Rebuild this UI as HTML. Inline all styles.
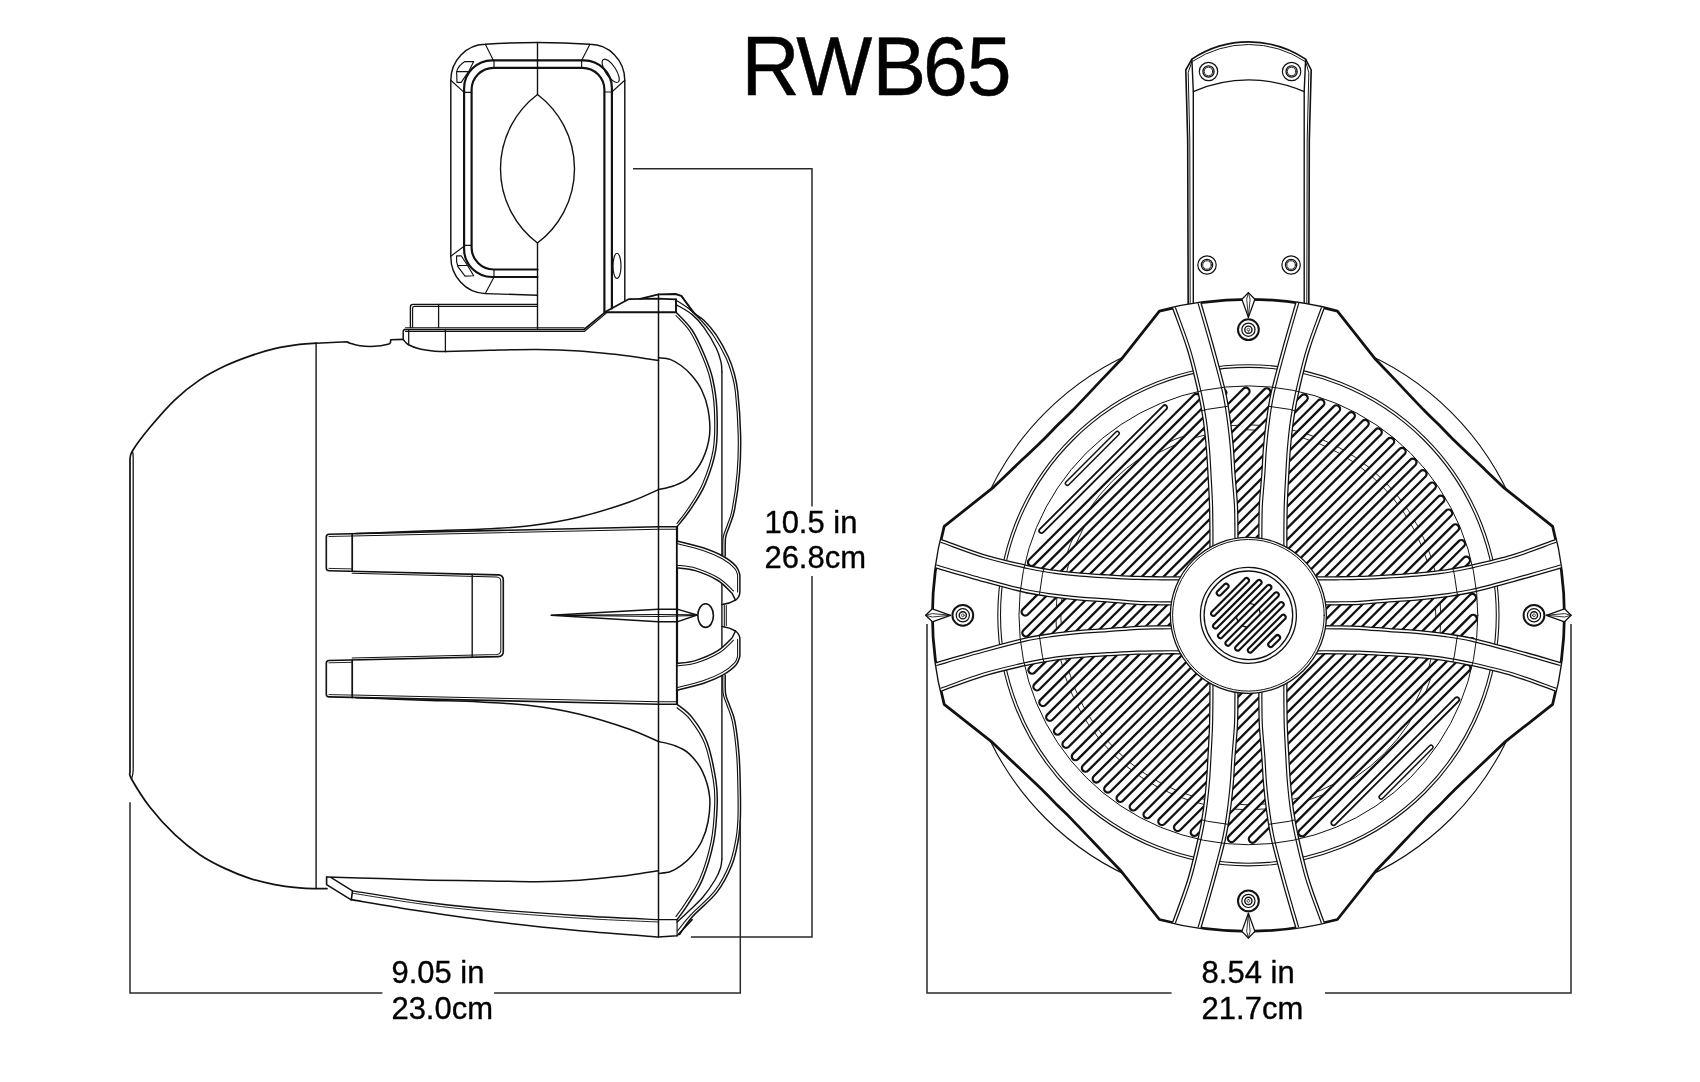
<!DOCTYPE html>
<html lang="en">
<head>
<meta charset="utf-8">
<title>RWB65</title>
<style>
html,body{margin:0;padding:0;background:#fff;}
body{width:1700px;height:1082px;overflow:hidden;}
svg{display:block;}
text{font-family:"Liberation Sans",Arial,Helvetica,sans-serif;fill:#000;}
</style>
</head>
<body>
<svg width="1700" height="1082" viewBox="0 0 1700 1082">
<rect width="1700" height="1082" fill="#fff"/>
<g id="side" fill="none" stroke="#111" stroke-width="1.35" stroke-linecap="round" stroke-linejoin="round">
<path d="M316.1,343.2C313.4,343.4 306.5,343.5 299.6,344.4C292.7,345.3 283,346.8 274.7,348.7C266.4,350.6 258,353.2 249.7,356.1C241.4,359 233.1,362.1 224.8,366.1C216.5,370.1 208.1,374.3 199.8,379.9C191.5,385.5 183.2,391.9 174.9,399.8C166.6,407.7 157.1,418.8 150,427.3C142.9,435.8 135.7,445.6 132.4,451C129.1,456.4 130.4,458.2 130,459.7L130,772.3C130.2,773.4 128.2,773.2 131.5,779C134.8,784.8 142.8,798 150,807.3C157.2,816.6 166.6,826.8 174.9,834.7C183.2,842.6 191.5,849.1 199.8,854.7C208.1,860.3 216.5,864.5 224.8,868.4C233.1,872.3 241.4,875.7 249.7,878.4C258,881.1 266.4,883 274.7,884.6C283,886.2 292.7,887.2 299.6,887.9C306.5,888.6 313.4,888.5 316.1,888.6L327,888.6" stroke-width="1.72"/>
<path d="M316.1,343.2L347,341.7C347.5,341.9 347.8,342.5 350,343.2C352.2,343.9 355.9,345.3 360,345.8C364.1,346.3 369.8,346.6 374.5,346.3C379.2,346 385.3,344.8 388,344.2C390.7,343.6 390.1,342.8 390.5,342.5L390.7,339.8L403.2,339.4" stroke-width="1.61"/>
<path d="M132.4,451C133.2,453 133.2,455 133.2,458L133.2,770C133.2,774 132.5,776 131.5,779" stroke-width="1.26"/>
<path d="M316.1,343.2L316.1,888.6" stroke-width="1.38"/>
<path d="M537.3,304.4L413,304.4Q410.4,304.4 410.4,307L410.4,327.6" stroke-width="1.38"/>
<path d="M537.3,306.3L414.5,306.3Q412.6,306.3 412.6,308.2L412.6,327.6" stroke-width="1.15"/>
<path d="M438.6,304.4L438.6,327.6" stroke-width="1.26"/>
<path d="M405.5,327.7L584,327.7" stroke-width="1.15"/>
<path d="M404.8,329.5L584,329.5L605.5,311.8L628.5,299.2L658.5,298.6L675.5,299.3" stroke-width="1.72"/>
<path d="M405.5,331.3L584.6,331.3L606,313.4" stroke-width="1.15"/>
<path d="M640,298.9L658.5,294.4L675.5,294L681.3,295.8L693.3,312" stroke-width="1.84"/>
<path d="M404.8,329.5Q403.2,329.7 403.2,331.5L403.2,339.4C404,340.2 405.2,342.9 408,344.5C410.8,346.1 415.8,347.9 420,349C424.2,350.1 428.8,350.6 433,351C437.2,351.4 443.3,351.5 445.4,351.6" stroke-width="1.49"/>
<path d="M445.4,329.5L445.4,351.6M408.7,329.8L408.7,344.8" stroke-width="1.26"/>
<path d="M658.5,294.2L658.5,937" stroke-width="1.49"/>
<path d="M445.4,351.6C452.8,351.4 474.7,350.7 490,350.3C505.3,349.9 522.1,349.3 537,349.4C551.9,349.5 566.3,350 579.6,350.9C592.9,351.8 606.1,353.4 617,354.6C627.9,355.9 638.1,357.4 645,358.4C651.9,359.4 656.2,360.1 658.5,360.4" stroke-width="1.49"/>
<path d="M658.5,357.8C660.4,358.1 666.2,358.1 670,359.4C673.8,360.7 677.3,362.8 681,365.5C684.7,368.2 688.5,371.6 692,375.7C695.5,379.8 699,384.3 701.7,390C704.4,395.7 706.8,402.2 708.1,409.7C709.4,417.1 710.5,426.4 709.6,434.7C708.7,443 705.9,452.5 702.5,459.6C699.1,466.8 693.8,473.2 689,477.6C684.2,482 679.1,483.8 674,485.8C668.9,487.8 661.1,489 658.5,489.6" stroke-width="1.49"/>
<path d="M658.5,489.6C653.7,491.7 642.6,497.4 629.5,502C616.4,506.6 596.2,513 579.6,517C563,521 546.3,523.7 529.7,525.7C513.1,527.7 496.4,528.4 479.8,529.2C463.2,530.1 445,530.3 430,530.8C415,531.3 402.3,531.8 390,532.3C377.7,532.8 361.7,533.3 356,533.5" stroke-width="1.49"/>
<path d="M326.6,877.1C335.5,877.4 362.8,878.1 380,878.6C397.2,879.1 411.7,879.8 430,880.2C448.3,880.6 472.2,880.6 490,880.9C507.8,881.2 522.1,881.9 537,881.8C551.9,881.7 566.3,881.2 579.6,880.3C592.9,879.4 606.1,877.9 617,876.6C627.9,875.4 638.1,873.8 645,872.8C651.9,871.8 656.2,871.1 658.5,870.8" stroke-width="1.49"/>
<path d="M658.5,873.4C660.4,873.1 666.2,873.1 670,871.8C673.8,870.5 677.3,868.4 681,865.7C684.7,863 688.5,859.6 692,855.5C695.5,851.4 699,846.9 701.7,841.2C704.4,835.5 706.8,829 708.1,821.5C709.4,814 710.5,804.8 709.6,796.5C708.7,788.2 705.9,778.8 702.5,771.6C699.1,764.5 693.8,758 689,753.6C684.2,749.2 679.1,747.4 674,745.4C668.9,743.4 661.1,742.2 658.5,741.6" stroke-width="1.49"/>
<path d="M658.5,741.6C653.7,739.5 642.6,733.8 629.5,729.2C616.4,724.6 596.2,718.2 579.6,714.2C563,710.2 546.3,707.5 529.7,705.5C513.1,703.5 496.4,702.9 479.8,702C463.2,701.1 445,700.9 430,700.4C415,699.9 402.3,699.4 390,698.9C377.7,698.5 361.7,697.9 356,697.7" stroke-width="1.49"/>
<path d="M677,526.8L658.5,526.8L329,534.3Q326.3,534.4 326.3,537L326.3,568Q326.3,570.6 329,570.7L498.3,574.9Q503.3,575.1 503.3,580.3L503.3,651.2Q503.3,656.4 498.3,656.6L329,660.5Q326.3,660.6 326.3,663.2L326.3,694.2Q326.3,696.8 329,696.9L658.5,704.2L677,704.2Z" stroke-width="1.61"/>
<path d="M677,526.8L677,704.2" stroke-width="2.18"/>
<path d="M352.2,536.1L658.5,529.2L677,529.2" stroke-width="1.03"/>
<path d="M352.2,695L658.5,701.8L677,701.8" stroke-width="1.03"/>
<path d="M352.2,533.8L352.2,571.2M352.2,660L352.2,697.4" stroke-width="1.72"/>
<path d="M329,536.5L352.2,536M329,568.4L352.2,568.9M329,662.8L352.2,662.3M329,694.6L352.2,695.1" stroke-width="0.92"/>
<path d="M352.2,573.3L496.5,576.9Q500.8,577.1 500.8,581.5L500.8,650Q500.8,654.3 496.5,654.5L352.2,657.9" stroke-width="1.03"/>
<path d="M472.2,574.2L472.2,657.2" stroke-width="1.38"/>
<path d="M551.2,615.3L658.3,609.2L677.1,609.2L697,615L677.1,621.8L658.3,621.8Z" stroke-width="1.38"/>
<path d="M551.2,615.3L658.3,614.4L697,614.8M551.2,615.3L658.3,616.6L697,615.6" stroke-width="1.03"/>
<ellipse cx="705.6" cy="615.6" rx="7.8" ry="11.8" stroke-width="1.6"/>
<path d="M681.3,295.8C683.3,298.5 689.5,307.9 693.3,312C697.1,316.1 700.3,316.7 704.1,320.5C707.9,324.3 712.2,328.9 716.2,334.9C720.2,340.9 725.2,350.1 728.2,356.5C731.2,362.9 732.6,367.4 734.2,373.3C735.8,379.2 736.7,381.8 737.8,392C738.9,402.2 740.3,421.4 740.6,434.7C740.9,448 740.6,459.5 739.6,472C738.6,484.5 736.3,500.5 734.6,509.5C732.9,518.5 731,521.3 729.5,526C728,530.7 726.3,532.5 725.6,537.5C724.9,542.5 725.3,552.9 725.2,556" stroke-width="1.49"/>
<path d="M690,309.5C692.1,311.6 698.5,317.5 702.5,322C706.5,326.5 710.1,330.6 714,336.5C717.9,342.4 722.8,351.2 725.8,357.5C728.8,363.8 730.2,368.6 731.8,374.3C733.4,380.1 734.3,381.9 735.4,392C736.5,402.1 737.9,421.4 738.2,434.7C738.5,448 738.2,459.5 737.2,472C736.2,484.5 733.9,500.6 732.2,509.5C730.5,518.4 728.7,520.8 727.2,525.5C725.7,530.2 723.9,532.6 723.2,537.5C722.5,542.4 722.9,552.1 722.8,555" stroke-width="1.15"/>
<path d="M676.5,304.8C679.1,306.4 687.4,310.6 692,314.4C696.6,318.2 700,322.1 704,327.7C708,333.3 713.4,342.3 716.2,348C719,353.7 720,358 721,362C722,366 721.8,370.3 721.9,372" stroke-width="1.38"/>
<path d="M676.5,300.5C678.8,302 686.1,306.5 690,309.5C693.9,312.5 698.3,317 700,318.5" stroke-width="1.15"/>
<path d="M676,312.3C678.7,315.2 687.3,323.1 692,330C696.7,336.9 700.6,346 704,354C707.4,362 710.4,368.7 712.5,378C714.6,387.3 716.4,397.8 716.9,409.7C717.4,421.6 717.8,437.1 715.8,449.6C713.8,462.1 709.3,474.5 705,484.6C700.7,494.7 694.7,503 690,510C685.3,517 679.2,524 677,526.8" stroke-width="1.49"/>
<path d="M676,315.5C678.3,318.2 685.7,324.9 690,331.5C694.3,338.1 698.4,347.2 701.7,355C705,362.8 707.9,369.4 710,378.5C712.1,387.6 713.9,397.9 714.4,409.7C714.9,421.5 715.2,436.9 713.3,449.2C711.3,461.5 706.9,473.7 702.7,483.6C698.5,493.5 692.3,502.2 688,508.8C683.7,515.5 678.8,521 677,523.5" stroke-width="1.15"/>
<path d="M721.9,372L721.9,859" stroke-width="1.38"/>
<path d="M605.5,312.3L676,312.3L676,299.3" stroke-width="1.95"/>
<path d="M725.2,675.2C725.3,678.3 724.9,688.7 725.6,693.7C726.3,698.7 727.9,700.5 729.5,705.2C731.1,709.9 733.4,713.4 735,722C736.6,730.6 738.3,745 739.2,757C740.1,769 740.2,783.5 740.4,794C740.6,804.5 740.6,812.1 740.3,819.7C739.9,827.3 739.7,832.2 738.3,839.7C736.9,847.2 735.5,856 732,864.7C728.5,873.4 723.6,883.4 717,892.1C710.4,900.8 698.3,909.9 692.1,917C685.9,924.1 681.7,931.6 679.6,934.5" stroke-width="1.49"/>
<path d="M722.8,676.2C722.9,679.1 722.5,688.8 723.2,693.7C723.9,698.6 725.6,700.9 727.2,705.7C728.8,710.5 731,714 732.6,722.5C734.2,731 735.9,745.1 736.8,757C737.7,768.9 737.8,783.5 738,794C738.2,804.5 738.2,812.2 737.9,819.7C737.5,827.2 737.3,831.9 735.9,839.2C734.5,846.5 733.2,855.1 729.7,863.7C726.2,872.3 721.6,882 715,890.6C708.4,899.2 696.5,908.7 690.3,915.4C684,922.1 679.6,928.4 677.5,931" stroke-width="1.15"/>
<path d="M721.9,859C721.7,860.5 721.6,864.5 720.5,868C719.4,871.5 717.9,875.2 715,880C712.1,884.8 707.2,892 703,897C698.8,902 694.3,905.8 690,910C685.7,914.2 679.2,920 677.1,922" stroke-width="1.38"/>
<path d="M677,704.2C679.5,706.4 687.1,711 692.1,717.4C697.1,723.8 703.2,732 707.1,742.4C711,752.8 714.1,769.4 715.8,779.8C717.5,790.2 717.6,794.4 717.2,804.8C716.8,815.2 716.1,829.7 713.6,842.2C711.1,854.7 706.7,869.2 702.4,879.6C698.1,890 692,897.9 687.8,904.6C683.6,911.3 678.9,917.1 677.1,919.6" stroke-width="1.49"/>
<path d="M677,707.8C679.2,709.7 685.4,713.4 690,719.4C694.6,725.4 700.8,733.5 704.7,743.6C708.6,753.7 711.6,770 713.3,780.2C715,790.4 715.1,794.6 714.7,804.8C714.3,815 713.6,829.3 711.1,841.6C708.6,853.9 704.3,868.2 700,878.4C695.7,888.6 689.5,896.6 685.5,903C681.5,909.4 677.5,914.2 675.9,916.5" stroke-width="1.15"/>
<path d="M677,541C681.5,542.2 696,545.4 703.8,548C711.5,550.6 718.1,553.4 723.5,556.5C728.9,559.6 733.5,563.3 736.2,566.4C738.9,569.5 739.3,573.6 739.9,575L739.9,592Q739.6,597.5 735.5,600.2L732,593.2C729.6,591.1 724,584.3 717.9,580.5C711.8,576.7 702.1,572.7 695.3,570.6C688.5,568.5 680,568.3 677,567.8Z" stroke-width="1.49" fill="#fff"/>
<path d="M677,543.6C681.3,544.7 695.5,547.9 703,550.4C710.5,552.9 717,555.8 722.3,558.8C727.6,561.8 732,565.7 734.6,568.4C737.2,571.1 737.1,573.9 737.6,575L737.6,592" stroke-width="1.03"/>
<path d="M735.5,600.2Q730,603.6 722.2,604.6" stroke-width="1.49"/>
<path d="M677,565.2C680.2,565.7 689,566 696,568.2C703,570.4 712.8,574.4 719,578.2C725.2,582 731.1,588.9 733.5,591" stroke-width="1.03"/>
<path d="M677,690.2C681.5,689 696,685.8 703.8,683.2C711.5,680.6 718.1,677.8 723.5,674.7C728.9,671.6 733.5,667.9 736.2,664.8C738.9,661.7 739.3,657.6 739.9,656.2L739.9,639.2Q739.6,633.7 735.5,631L732,638C729.6,640.1 724,646.9 717.9,650.7C711.8,654.5 702.1,658.5 695.3,660.6C688.5,662.7 680,662.9 677,663.4Z" stroke-width="1.49" fill="#fff"/>
<path d="M677,687.6C681.3,686.5 695.5,683.3 703,680.8C710.5,678.3 717,675.4 722.3,672.4C727.6,669.4 732,665.5 734.6,662.8C737.2,660.1 737.1,657.3 737.6,656.2L737.6,639.2" stroke-width="1.03"/>
<path d="M735.5,631Q730,627.6 722.2,626.6" stroke-width="1.49"/>
<path d="M677,666C680.2,665.5 689,665.2 696,663C703,660.8 712.8,656.8 719,653C725.2,649.2 731.1,642.3 733.5,640.2" stroke-width="1.03"/>
<path d="M724.3,605L724.3,626.2M726.3,605.6L726.3,625.6" stroke-width="1.03"/>
<path d="M326.6,877.1L326.6,884.6L350.8,899.6C362.3,901.5 395.1,907.2 420,911C444.9,914.8 473.4,919 500,922.3C526.6,925.6 553.4,928.3 579.8,930.8C606.2,933.2 645.4,936 658.5,937L677.1,935.8L692.1,919.6" stroke-width="1.61"/>
<path d="M330.8,877.3L352.5,890.9C363.8,892.7 398.8,898.6 420,901.5C441.2,904.4 453.4,905.9 480,908.3C506.6,910.7 550,913.9 579.8,915.8C609.5,917.7 645.4,919 658.5,919.6L677.1,919.6" stroke-width="1.38"/>
<path d="M352.5,890.9L351.3,899.8" stroke-width="1.61"/>
<path d="M352.5,893.2C363.8,895 398.8,900.9 420,903.8C441.2,906.7 453.4,908.2 480,910.6C506.6,913 550,916.3 579.8,918.2C609.5,920.1 645.4,921.4 658.5,922" stroke-width="0.92"/>
<path d="M677.1,919.6L677.1,935.8" stroke-width="1.15"/>
<path d="M537.5,295.3L485.3,293.6A35.5,37 0 0 1 450.8,256.2L450.8,80.3A35,36 0 0 1 484.9,44.3Q537.7,40.7 589.9,44.3A35,36 0 0 1 624.8,80.3L624.8,300.6" stroke-width="1.44"/>
<path d="M537.5,277L492.1,277A28,28 0 0 1 464.1,249L464.1,88.4A28,28 0 0 1 492.1,60.4L583.9,60.4A28,28 0 0 1 611.9,88.4L611.9,308.4" stroke-width="2.18"/>
<path d="M537.5,269.5L493.6,269.5A22,22 0 0 1 471.6,247.5L471.6,89.85A22,22 0 0 1 493.6,67.85L582.4,67.85A22,22 0 0 1 604.4,89.85L604.4,312.3" stroke-width="2.18"/>
<path d="M485.3,44.3L493.6,60.8M450.8,80.3L464.1,92.4M589.9,44.3L581.6,60.4M624.8,80.3L612.3,91.5M450.8,256.2L464.1,246.2M485.3,293.6L494,277" stroke-width="1.15"/>
<path d="M464.1,92.4L471.6,92.4M494,60.4L494,67.85M581.6,60.4L581.6,67.85M604.4,92L611.9,92M464.1,245.4L471.6,245.4M494,269.5L494,277" stroke-width="1.15"/>
<path d="M537.5,42.5L537.5,94.5M537.5,243L537.5,329.5" stroke-width="1.38"/>
<path d="M537.5,94.5A93,93 0 0 0 537.5,243A93,93 0 0 0 537.5,94.5" stroke-width="1.38"/>
<path d="M456.6,71.6Q458.5,65.5 464.9,61.6L473.7,61.6L469.1,70.8L461.2,82.4L457,82.4ZM456.8,71.6L467.9,71.6" stroke-width="1.15"/>
<path d="M456.6,261.6L456.6,255.8L461.2,255.8L467.4,265.3L473.7,275.7L465,276.1L457.9,266.6ZM457.9,265.6L467.4,265.3" stroke-width="1.15"/>
<ellipse cx="610.7" cy="70.8" rx="13.5" ry="5.2" transform="rotate(57 610.7 70.8)" stroke-width="1.15"/>
<ellipse cx="617" cy="265.9" rx="4" ry="12.6" stroke-width="1.15"/>
</g>
<g id="front" fill="none" stroke="#111" stroke-width="1.3" stroke-linecap="round" stroke-linejoin="round">
<circle cx="1248.4" cy="615.3" r="287" stroke-width="1.1"/>
<path d="M1188.2,312L1187.7,140L1185.8,70L1191.9,59.1A102.7,102.7 0 0 1 1305.6,59.1L1311.2,70L1309.3,140L1308.8,312Z" stroke-width="1.62" fill="#fff"/>
<path d="M1190.2,312L1189.8,140L1188.2,72.5L1191.9,61.5M1306.8,312L1307.2,140L1308.8,72.5L1305.6,61.5" stroke-width="0.97"/>
<path d="M1192.8,61.2A101.5,101.5 0 0 1 1304.7,61.2" stroke-width="0.97"/>
<path d="M1191.9,59.1L1193.3,91.6L1193.3,312M1305.6,59.1L1304.2,91.6L1304.2,312" stroke-width="1.4"/>
<path d="M1193.3,91.6A137.5,137.5 0 0 1 1304.2,91.6" stroke-width="1.3"/>
<circle cx="1208.5" cy="71.5" r="9.2" stroke-width="1.2"/>
<circle cx="1208.5" cy="71.5" r="5.6" stroke-width="1.3"/>
<circle cx="1208.5" cy="71.5" r="4.3" stroke-width="0.9"/>
<circle cx="1291.6" cy="71.5" r="9.2" stroke-width="1.2"/>
<circle cx="1291.6" cy="71.5" r="5.6" stroke-width="1.3"/>
<circle cx="1291.6" cy="71.5" r="4.3" stroke-width="0.9"/>
<circle cx="1207" cy="265" r="9.2" stroke-width="1.2"/>
<circle cx="1207" cy="265" r="5.6" stroke-width="1.3"/>
<circle cx="1207" cy="265" r="4.3" stroke-width="0.9"/>
<circle cx="1291.1" cy="265" r="9.2" stroke-width="1.2"/>
<circle cx="1291.1" cy="265" r="5.6" stroke-width="1.3"/>
<circle cx="1291.1" cy="265" r="4.3" stroke-width="0.9"/>
<clipPath id="bodyclip"><path d="M1337.4,311.1A347,347 0 0 0 1159.4,311.1L1121.3,359.3C1118.3,362.5 1111.1,369.9 1103,378.4C1094.9,386.9 1080,402.8 1072.5,410.5C1065,418.2 1062.7,420 1057.9,424.8C1053.1,429.6 1051.3,431.9 1043.6,439.4C1035.9,446.9 1020,461.8 1011.5,469.9C1003,478 995.6,485.1 992.4,488.2L944.2,526.3A347,347 0 0 0 944.2,704.3L992.4,742.4C995.6,745.4 1003,752.6 1011.5,760.7C1020,768.8 1035.9,783.7 1043.6,791.2C1051.3,798.7 1053.1,801 1057.9,805.8C1062.7,810.6 1065,812.4 1072.5,820.1C1080,827.8 1094.9,843.7 1103,852.2C1111.1,860.7 1118.3,868.1 1121.3,871.3L1159.4,919.5A347,347 0 0 0 1337.4,919.5L1375.5,871.3C1378.5,868.1 1385.7,860.7 1393.8,852.2C1401.9,843.7 1416.8,827.8 1424.3,820.1C1431.8,812.4 1434.1,810.6 1438.9,805.8C1443.7,801 1445.5,798.7 1453.2,791.2C1460.9,783.7 1476.8,768.8 1485.3,760.7C1493.8,752.6 1501.2,745.4 1504.4,742.4L1552.6,704.3A347,347 0 0 0 1552.6,526.3L1504.4,488.2C1501.2,485.1 1493.8,478 1485.3,469.9C1476.8,461.8 1460.9,446.9 1453.2,439.4C1445.5,431.9 1443.7,429.6 1438.9,424.8C1434.1,420 1431.8,418.2 1424.3,410.5C1416.8,402.8 1401.9,386.9 1393.8,378.4C1385.7,369.9 1378.5,362.5 1375.5,359.3Z"/></clipPath>
<path d="M1337.4,311.1A347,347 0 0 0 1159.4,311.1L1121.3,359.3C1118.3,362.5 1111.1,369.9 1103,378.4C1094.9,386.9 1080,402.8 1072.5,410.5C1065,418.2 1062.7,420 1057.9,424.8C1053.1,429.6 1051.3,431.9 1043.6,439.4C1035.9,446.9 1020,461.8 1011.5,469.9C1003,478 995.6,485.1 992.4,488.2L944.2,526.3A347,347 0 0 0 944.2,704.3L992.4,742.4C995.6,745.4 1003,752.6 1011.5,760.7C1020,768.8 1035.9,783.7 1043.6,791.2C1051.3,798.7 1053.1,801 1057.9,805.8C1062.7,810.6 1065,812.4 1072.5,820.1C1080,827.8 1094.9,843.7 1103,852.2C1111.1,860.7 1118.3,868.1 1121.3,871.3L1159.4,919.5A347,347 0 0 0 1337.4,919.5L1375.5,871.3C1378.5,868.1 1385.7,860.7 1393.8,852.2C1401.9,843.7 1416.8,827.8 1424.3,820.1C1431.8,812.4 1434.1,810.6 1438.9,805.8C1443.7,801 1445.5,798.7 1453.2,791.2C1460.9,783.7 1476.8,768.8 1485.3,760.7C1493.8,752.6 1501.2,745.4 1504.4,742.4L1552.6,704.3A347,347 0 0 0 1552.6,526.3L1504.4,488.2C1501.2,485.1 1493.8,478 1485.3,469.9C1476.8,461.8 1460.9,446.9 1453.2,439.4C1445.5,431.9 1443.7,429.6 1438.9,424.8C1434.1,420 1431.8,418.2 1424.3,410.5C1416.8,402.8 1401.9,386.9 1393.8,378.4C1385.7,369.9 1378.5,362.5 1375.5,359.3Z" stroke-width="2.75" fill="#fff"/>
<circle cx="1248.4" cy="615.3" r="250.6" stroke-width="1.1"/>
<circle cx="1248.4" cy="615.3" r="247.9" stroke-width="1.1"/>
<clipPath id="slots"><path d="M-116.5,-194.9H116.5A3.6,3.6 0 0 1 116.5,-187.6H-116.5A3.6,3.6 0 0 1 -116.5,-194.9ZM-138.5,-179.6H138.5A3.6,3.6 0 0 1 138.5,-172.3H-138.5A3.6,3.6 0 0 1 -138.5,-179.6ZM-156,-164.3H156A3.6,3.6 0 0 1 156,-157H-156A3.6,3.6 0 0 1 -156,-164.3ZM-170.3,-149H170.3A3.6,3.6 0 0 1 170.3,-141.7H-170.3A3.6,3.6 0 0 1 -170.3,-149ZM-182.3,-133.7H182.3A3.6,3.6 0 0 1 182.3,-126.4H-182.3A3.6,3.6 0 0 1 -182.3,-133.7ZM-192.3,-118.4H192.3A3.6,3.6 0 0 1 192.3,-111.1H-192.3A3.6,3.6 0 0 1 -192.3,-118.4ZM-200.6,-103.1H200.6A3.6,3.6 0 0 1 200.6,-95.8H-200.6A3.6,3.6 0 0 1 -200.6,-103.1ZM-207.5,-87.8H207.5A3.6,3.6 0 0 1 207.5,-80.5H-207.5A3.6,3.6 0 0 1 -207.5,-87.8ZM-213.1,-72.5H213.1A3.6,3.6 0 0 1 213.1,-65.2H-213.1A3.6,3.6 0 0 1 -213.1,-72.5ZM-217.4,-57.2H217.4A3.6,3.6 0 0 1 217.4,-49.9H-217.4A3.6,3.6 0 0 1 -217.4,-57.2ZM-220.6,-41.9H220.6A3.6,3.6 0 0 1 220.6,-34.6H-220.6A3.6,3.6 0 0 1 -220.6,-41.9ZM-222.8,-26.6H222.8A3.6,3.6 0 0 1 222.8,-19.3H-222.8A3.6,3.6 0 0 1 -222.8,-26.6ZM-223.8,-11.3H223.8A3.6,3.6 0 0 1 223.8,-4H-223.8A3.6,3.6 0 0 1 -223.8,-11.3ZM-223.8,4H223.8A3.6,3.6 0 0 1 223.8,11.3H-223.8A3.6,3.6 0 0 1 -223.8,4ZM-222.8,19.3H222.8A3.6,3.6 0 0 1 222.8,26.6H-222.8A3.6,3.6 0 0 1 -222.8,19.3ZM-220.6,34.6H220.6A3.6,3.6 0 0 1 220.6,41.9H-220.6A3.6,3.6 0 0 1 -220.6,34.6ZM-217.4,49.9H217.4A3.6,3.6 0 0 1 217.4,57.2H-217.4A3.6,3.6 0 0 1 -217.4,49.9ZM-213.1,65.2H213.1A3.6,3.6 0 0 1 213.1,72.5H-213.1A3.6,3.6 0 0 1 -213.1,65.2ZM-207.5,80.5H207.5A3.6,3.6 0 0 1 207.5,87.8H-207.5A3.6,3.6 0 0 1 -207.5,80.5ZM-200.6,95.8H200.6A3.6,3.6 0 0 1 200.6,103.1H-200.6A3.6,3.6 0 0 1 -200.6,95.8ZM-192.3,111.1H192.3A3.6,3.6 0 0 1 192.3,118.4H-192.3A3.6,3.6 0 0 1 -192.3,111.1ZM-182.3,126.4H182.3A3.6,3.6 0 0 1 182.3,133.7H-182.3A3.6,3.6 0 0 1 -182.3,126.4ZM-170.3,141.7H170.3A3.6,3.6 0 0 1 170.3,149H-170.3A3.6,3.6 0 0 1 -170.3,141.7ZM-156,157H156A3.6,3.6 0 0 1 156,164.3H-156A3.6,3.6 0 0 1 -156,157ZM-138.5,172.3H138.5A3.6,3.6 0 0 1 138.5,179.6H-138.5A3.6,3.6 0 0 1 -138.5,172.3ZM-116.5,187.6H116.5A3.6,3.6 0 0 1 116.5,194.9H-116.5A3.6,3.6 0 0 1 -116.5,187.6ZM-35.3,-223.8H35.3A1.9,1.9 0 0 1 35.3,-219.9H-35.3A1.9,1.9 0 0 1 -35.3,-223.8ZM-35.3,219.9H35.3A1.9,1.9 0 0 1 35.3,223.8H-35.3A1.9,1.9 0 0 1 -35.3,219.9ZM-87.2,-208.9H87.2A2.3,2.3 0 0 1 87.2,-204.2H-87.2A2.3,2.3 0 0 1 -87.2,-208.9ZM-87.2,204.2H87.2A2.3,2.3 0 0 1 87.2,208.9H-87.2A2.3,2.3 0 0 1 -87.2,204.2Z" transform="translate(1249.2 615.2) rotate(-45)"/></clipPath>
<g clip-path="url(#slots)" stroke-width="0.9">
<circle cx="1248.4" cy="617.3" r="187.5"/>
<circle cx="1248.4" cy="617.3" r="192.5"/>
</g>
<path d="M-116.5,-194.9H116.5A3.6,3.6 0 0 1 116.5,-187.6H-116.5A3.6,3.6 0 0 1 -116.5,-194.9ZM-138.5,-179.6H138.5A3.6,3.6 0 0 1 138.5,-172.3H-138.5A3.6,3.6 0 0 1 -138.5,-179.6ZM-156,-164.3H156A3.6,3.6 0 0 1 156,-157H-156A3.6,3.6 0 0 1 -156,-164.3ZM-170.3,-149H170.3A3.6,3.6 0 0 1 170.3,-141.7H-170.3A3.6,3.6 0 0 1 -170.3,-149ZM-182.3,-133.7H182.3A3.6,3.6 0 0 1 182.3,-126.4H-182.3A3.6,3.6 0 0 1 -182.3,-133.7ZM-192.3,-118.4H192.3A3.6,3.6 0 0 1 192.3,-111.1H-192.3A3.6,3.6 0 0 1 -192.3,-118.4ZM-200.6,-103.1H200.6A3.6,3.6 0 0 1 200.6,-95.8H-200.6A3.6,3.6 0 0 1 -200.6,-103.1ZM-207.5,-87.8H207.5A3.6,3.6 0 0 1 207.5,-80.5H-207.5A3.6,3.6 0 0 1 -207.5,-87.8ZM-213.1,-72.5H213.1A3.6,3.6 0 0 1 213.1,-65.2H-213.1A3.6,3.6 0 0 1 -213.1,-72.5ZM-217.4,-57.2H217.4A3.6,3.6 0 0 1 217.4,-49.9H-217.4A3.6,3.6 0 0 1 -217.4,-57.2ZM-220.6,-41.9H220.6A3.6,3.6 0 0 1 220.6,-34.6H-220.6A3.6,3.6 0 0 1 -220.6,-41.9ZM-222.8,-26.6H222.8A3.6,3.6 0 0 1 222.8,-19.3H-222.8A3.6,3.6 0 0 1 -222.8,-26.6ZM-223.8,-11.3H223.8A3.6,3.6 0 0 1 223.8,-4H-223.8A3.6,3.6 0 0 1 -223.8,-11.3ZM-223.8,4H223.8A3.6,3.6 0 0 1 223.8,11.3H-223.8A3.6,3.6 0 0 1 -223.8,4ZM-222.8,19.3H222.8A3.6,3.6 0 0 1 222.8,26.6H-222.8A3.6,3.6 0 0 1 -222.8,19.3ZM-220.6,34.6H220.6A3.6,3.6 0 0 1 220.6,41.9H-220.6A3.6,3.6 0 0 1 -220.6,34.6ZM-217.4,49.9H217.4A3.6,3.6 0 0 1 217.4,57.2H-217.4A3.6,3.6 0 0 1 -217.4,49.9ZM-213.1,65.2H213.1A3.6,3.6 0 0 1 213.1,72.5H-213.1A3.6,3.6 0 0 1 -213.1,65.2ZM-207.5,80.5H207.5A3.6,3.6 0 0 1 207.5,87.8H-207.5A3.6,3.6 0 0 1 -207.5,80.5ZM-200.6,95.8H200.6A3.6,3.6 0 0 1 200.6,103.1H-200.6A3.6,3.6 0 0 1 -200.6,95.8ZM-192.3,111.1H192.3A3.6,3.6 0 0 1 192.3,118.4H-192.3A3.6,3.6 0 0 1 -192.3,111.1ZM-182.3,126.4H182.3A3.6,3.6 0 0 1 182.3,133.7H-182.3A3.6,3.6 0 0 1 -182.3,126.4ZM-170.3,141.7H170.3A3.6,3.6 0 0 1 170.3,149H-170.3A3.6,3.6 0 0 1 -170.3,141.7ZM-156,157H156A3.6,3.6 0 0 1 156,164.3H-156A3.6,3.6 0 0 1 -156,157ZM-138.5,172.3H138.5A3.6,3.6 0 0 1 138.5,179.6H-138.5A3.6,3.6 0 0 1 -138.5,172.3ZM-116.5,187.6H116.5A3.6,3.6 0 0 1 116.5,194.9H-116.5A3.6,3.6 0 0 1 -116.5,187.6Z" stroke-width="2.30" transform="translate(1249.2 615.2) rotate(-45)"/>
<path d="M-35.3,-223.8H35.3A1.9,1.9 0 0 1 35.3,-219.9H-35.3A1.9,1.9 0 0 1 -35.3,-223.8ZM-35.3,219.9H35.3A1.9,1.9 0 0 1 35.3,223.8H-35.3A1.9,1.9 0 0 1 -35.3,219.9Z" stroke-width="1.5" transform="translate(1249.2 615.2) rotate(-45)"/>
<path d="M-87.2,-208.9H87.2A2.3,2.3 0 0 1 87.2,-204.2H-87.2A2.3,2.3 0 0 1 -87.2,-208.9ZM-87.2,204.2H87.2A2.3,2.3 0 0 1 87.2,208.9H-87.2A2.3,2.3 0 0 1 -87.2,204.2Z" stroke-width="1.8" transform="translate(1249.2 615.2) rotate(-45)"/>
<clipPath id="spokeclip"><path d="M913.4,529.2C918.4,531 931.6,536 943.4,540.3C955.2,544.6 970.4,550.6 984.4,554.8C998.4,559 1015.9,562.9 1027.4,565.5C1038.9,568.1 1044.6,568.9 1053.4,570.2C1062.2,571.5 1071.4,572.4 1080.4,573.2C1089.4,574 1097.9,574.4 1107.4,574.9C1116.9,575.4 1128.4,576.1 1137.4,576.4C1146.4,576.7 1152.9,576.7 1161.4,576.8C1169.9,576.9 1183.9,576.8 1188.4,576.8L1188.4,604.8C1183.9,604.8 1169.9,604.9 1161.4,604.8C1152.9,604.7 1146.4,604.8 1137.4,604.3C1128.4,603.8 1116.9,602.6 1107.4,601.9C1097.9,601.2 1089.4,601 1080.4,600.2C1071.4,599.4 1062.6,598.5 1053.4,597.2C1044.2,595.9 1036.9,595.1 1025.4,592.5C1013.9,589.9 999.1,585.8 984.4,581.8C969.7,577.8 950.1,572 937.4,568.3C924.7,564.6 913.2,561.2 908.4,559.8ZM913.4,701.4C918.4,699.5 931.6,694.6 943.4,690.3C955.2,686 970.4,680 984.4,675.8C998.4,671.6 1015.9,667.7 1027.4,665.1C1038.9,662.5 1044.6,661.7 1053.4,660.4C1062.2,659.1 1071.4,658.2 1080.4,657.4C1089.4,656.6 1097.9,656.2 1107.4,655.7C1116.9,655.2 1128.4,654.5 1137.4,654.2C1146.4,653.9 1152.9,653.9 1161.4,653.8C1169.9,653.7 1183.9,653.8 1188.4,653.8L1188.4,625.8C1183.9,625.8 1169.9,625.7 1161.4,625.8C1152.9,625.9 1146.4,625.8 1137.4,626.3C1128.4,626.8 1116.9,628 1107.4,628.7C1097.9,629.4 1089.4,629.6 1080.4,630.4C1071.4,631.2 1062.6,632.1 1053.4,633.4C1044.2,634.7 1036.9,635.5 1025.4,638.1C1013.9,640.7 999.1,644.8 984.4,648.8C969.7,652.8 950.1,658.6 937.4,662.3C924.7,666 913.2,669.4 908.4,670.8ZM1583.4,529.2C1578.4,531 1565.2,536 1553.4,540.3C1541.6,544.6 1526.4,550.6 1512.4,554.8C1498.4,559 1480.9,562.9 1469.4,565.5C1457.9,568.1 1452.2,568.9 1443.4,570.2C1434.6,571.5 1425.4,572.4 1416.4,573.2C1407.4,574 1398.9,574.4 1389.4,574.9C1379.9,575.4 1368.4,576.1 1359.4,576.4C1350.4,576.7 1343.9,576.7 1335.4,576.8C1326.9,576.9 1312.9,576.8 1308.4,576.8L1308.4,604.8C1312.9,604.8 1326.9,604.9 1335.4,604.8C1343.9,604.7 1350.4,604.8 1359.4,604.3C1368.4,603.8 1379.9,602.6 1389.4,601.9C1398.9,601.2 1407.4,601 1416.4,600.2C1425.4,599.4 1434.2,598.5 1443.4,597.2C1452.6,595.9 1459.9,595.1 1471.4,592.5C1482.9,589.9 1497.7,585.8 1512.4,581.8C1527.1,577.8 1546.7,572 1559.4,568.3C1572.1,564.6 1583.6,561.2 1588.4,559.8ZM1583.4,701.4C1578.4,699.5 1565.2,694.6 1553.4,690.3C1541.6,686 1526.4,680 1512.4,675.8C1498.4,671.6 1480.9,667.7 1469.4,665.1C1457.9,662.5 1452.2,661.7 1443.4,660.4C1434.6,659.1 1425.4,658.2 1416.4,657.4C1407.4,656.6 1398.9,656.2 1389.4,655.7C1379.9,655.2 1368.4,654.5 1359.4,654.2C1350.4,653.9 1343.9,653.9 1335.4,653.8C1326.9,653.7 1312.9,653.8 1308.4,653.8L1308.4,625.8C1312.9,625.8 1326.9,625.7 1335.4,625.8C1343.9,625.9 1350.4,625.8 1359.4,626.3C1368.4,626.8 1379.9,628 1389.4,628.7C1398.9,629.4 1407.4,629.6 1416.4,630.4C1425.4,631.2 1434.2,632.1 1443.4,633.4C1452.6,634.7 1459.9,635.5 1471.4,638.1C1482.9,640.7 1497.7,644.8 1512.4,648.8C1527.1,652.8 1546.7,658.6 1559.4,662.3C1572.1,666 1583.6,669.4 1588.4,670.8ZM1162.3,280.3C1164.2,285.3 1169.1,298.5 1173.4,310.3C1177.7,322.1 1183.7,337.3 1187.9,351.3C1192.1,365.3 1196,382.8 1198.6,394.3C1201.2,405.8 1202,411.5 1203.3,420.3C1204.6,429.1 1205.5,438.3 1206.3,447.3C1207.1,456.3 1207.5,464.8 1208,474.3C1208.5,483.8 1209.2,495.3 1209.5,504.3C1209.8,513.3 1209.8,519.8 1209.9,528.3C1210,536.8 1209.9,550.8 1209.9,555.3L1237.9,555.3C1237.9,550.8 1238,536.8 1237.9,528.3C1237.8,519.8 1237.9,513.3 1237.4,504.3C1236.9,495.3 1235.7,483.8 1235,474.3C1234.3,464.8 1234.1,456.3 1233.3,447.3C1232.5,438.3 1231.6,429.5 1230.3,420.3C1229,411.1 1228.2,403.8 1225.6,392.3C1223,380.8 1218.9,366 1214.9,351.3C1210.9,336.6 1205.1,317 1201.4,304.3C1197.7,291.6 1194.3,280.1 1192.9,275.3ZM1334.5,280.3C1332.7,285.3 1327.7,298.5 1323.4,310.3C1319.1,322.1 1313.1,337.3 1308.9,351.3C1304.7,365.3 1300.8,382.8 1298.2,394.3C1295.6,405.8 1294.8,411.5 1293.5,420.3C1292.2,429.1 1291.3,438.3 1290.5,447.3C1289.7,456.3 1289.3,464.8 1288.8,474.3C1288.3,483.8 1287.6,495.3 1287.3,504.3C1287,513.3 1287,519.8 1286.9,528.3C1286.8,536.8 1286.9,550.8 1286.9,555.3L1258.9,555.3C1258.9,550.8 1258.8,536.8 1258.9,528.3C1259,519.8 1258.9,513.3 1259.4,504.3C1259.9,495.3 1261.1,483.8 1261.8,474.3C1262.5,464.8 1262.7,456.3 1263.5,447.3C1264.3,438.3 1265.2,429.5 1266.5,420.3C1267.8,411.1 1268.6,403.8 1271.2,392.3C1273.8,380.8 1277.9,366 1281.9,351.3C1285.9,336.6 1291.7,317 1295.4,304.3C1299.1,291.6 1302.5,280.1 1303.9,275.3ZM1162.3,950.3C1164.2,945.3 1169.1,932.1 1173.4,920.3C1177.7,908.5 1183.7,893.3 1187.9,879.3C1192.1,865.3 1196,847.8 1198.6,836.3C1201.2,824.8 1202,819.1 1203.3,810.3C1204.6,801.5 1205.5,792.3 1206.3,783.3C1207.1,774.3 1207.5,765.8 1208,756.3C1208.5,746.8 1209.2,735.3 1209.5,726.3C1209.8,717.3 1209.8,710.8 1209.9,702.3C1210,693.8 1209.9,679.8 1209.9,675.3L1237.9,675.3C1237.9,679.8 1238,693.8 1237.9,702.3C1237.8,710.8 1237.9,717.3 1237.4,726.3C1236.9,735.3 1235.7,746.8 1235,756.3C1234.3,765.8 1234.1,774.3 1233.3,783.3C1232.5,792.3 1231.6,801.1 1230.3,810.3C1229,819.5 1228.2,826.8 1225.6,838.3C1223,849.8 1218.9,864.6 1214.9,879.3C1210.9,894 1205.1,913.6 1201.4,926.3C1197.7,939 1194.3,950.5 1192.9,955.3ZM1334.5,950.3C1332.7,945.3 1327.7,932.1 1323.4,920.3C1319.1,908.5 1313.1,893.3 1308.9,879.3C1304.7,865.3 1300.8,847.8 1298.2,836.3C1295.6,824.8 1294.8,819.1 1293.5,810.3C1292.2,801.5 1291.3,792.3 1290.5,783.3C1289.7,774.3 1289.3,765.8 1288.8,756.3C1288.3,746.8 1287.6,735.3 1287.3,726.3C1287,717.3 1287,710.8 1286.9,702.3C1286.8,693.8 1286.9,679.8 1286.9,675.3L1258.9,675.3C1258.9,679.8 1258.8,693.8 1258.9,702.3C1259,710.8 1258.9,717.3 1259.4,726.3C1259.9,735.3 1261.1,746.8 1261.8,756.3C1262.5,765.8 1262.7,774.3 1263.5,783.3C1264.3,792.3 1265.2,801.1 1266.5,810.3C1267.8,819.5 1268.6,826.8 1271.2,838.3C1273.8,849.8 1277.9,864.6 1281.9,879.3C1285.9,894 1291.7,913.6 1295.4,926.3C1299.1,939 1302.5,950.5 1303.9,955.3Z"/></clipPath>
<g clip-path="url(#bodyclip)">
<path d="M913.4,529.2C918.4,531 931.6,536 943.4,540.3C955.2,544.6 970.4,550.6 984.4,554.8C998.4,559 1015.9,562.9 1027.4,565.5C1038.9,568.1 1044.6,568.9 1053.4,570.2C1062.2,571.5 1071.4,572.4 1080.4,573.2C1089.4,574 1097.9,574.4 1107.4,574.9C1116.9,575.4 1128.4,576.1 1137.4,576.4C1146.4,576.7 1152.9,576.7 1161.4,576.8C1169.9,576.9 1183.9,576.8 1188.4,576.8L1188.4,604.8C1183.9,604.8 1169.9,604.9 1161.4,604.8C1152.9,604.7 1146.4,604.8 1137.4,604.3C1128.4,603.8 1116.9,602.6 1107.4,601.9C1097.9,601.2 1089.4,601 1080.4,600.2C1071.4,599.4 1062.6,598.5 1053.4,597.2C1044.2,595.9 1036.9,595.1 1025.4,592.5C1013.9,589.9 999.1,585.8 984.4,581.8C969.7,577.8 950.1,572 937.4,568.3C924.7,564.6 913.2,561.2 908.4,559.8ZM913.4,701.4C918.4,699.5 931.6,694.6 943.4,690.3C955.2,686 970.4,680 984.4,675.8C998.4,671.6 1015.9,667.7 1027.4,665.1C1038.9,662.5 1044.6,661.7 1053.4,660.4C1062.2,659.1 1071.4,658.2 1080.4,657.4C1089.4,656.6 1097.9,656.2 1107.4,655.7C1116.9,655.2 1128.4,654.5 1137.4,654.2C1146.4,653.9 1152.9,653.9 1161.4,653.8C1169.9,653.7 1183.9,653.8 1188.4,653.8L1188.4,625.8C1183.9,625.8 1169.9,625.7 1161.4,625.8C1152.9,625.9 1146.4,625.8 1137.4,626.3C1128.4,626.8 1116.9,628 1107.4,628.7C1097.9,629.4 1089.4,629.6 1080.4,630.4C1071.4,631.2 1062.6,632.1 1053.4,633.4C1044.2,634.7 1036.9,635.5 1025.4,638.1C1013.9,640.7 999.1,644.8 984.4,648.8C969.7,652.8 950.1,658.6 937.4,662.3C924.7,666 913.2,669.4 908.4,670.8ZM1583.4,529.2C1578.4,531 1565.2,536 1553.4,540.3C1541.6,544.6 1526.4,550.6 1512.4,554.8C1498.4,559 1480.9,562.9 1469.4,565.5C1457.9,568.1 1452.2,568.9 1443.4,570.2C1434.6,571.5 1425.4,572.4 1416.4,573.2C1407.4,574 1398.9,574.4 1389.4,574.9C1379.9,575.4 1368.4,576.1 1359.4,576.4C1350.4,576.7 1343.9,576.7 1335.4,576.8C1326.9,576.9 1312.9,576.8 1308.4,576.8L1308.4,604.8C1312.9,604.8 1326.9,604.9 1335.4,604.8C1343.9,604.7 1350.4,604.8 1359.4,604.3C1368.4,603.8 1379.9,602.6 1389.4,601.9C1398.9,601.2 1407.4,601 1416.4,600.2C1425.4,599.4 1434.2,598.5 1443.4,597.2C1452.6,595.9 1459.9,595.1 1471.4,592.5C1482.9,589.9 1497.7,585.8 1512.4,581.8C1527.1,577.8 1546.7,572 1559.4,568.3C1572.1,564.6 1583.6,561.2 1588.4,559.8ZM1583.4,701.4C1578.4,699.5 1565.2,694.6 1553.4,690.3C1541.6,686 1526.4,680 1512.4,675.8C1498.4,671.6 1480.9,667.7 1469.4,665.1C1457.9,662.5 1452.2,661.7 1443.4,660.4C1434.6,659.1 1425.4,658.2 1416.4,657.4C1407.4,656.6 1398.9,656.2 1389.4,655.7C1379.9,655.2 1368.4,654.5 1359.4,654.2C1350.4,653.9 1343.9,653.9 1335.4,653.8C1326.9,653.7 1312.9,653.8 1308.4,653.8L1308.4,625.8C1312.9,625.8 1326.9,625.7 1335.4,625.8C1343.9,625.9 1350.4,625.8 1359.4,626.3C1368.4,626.8 1379.9,628 1389.4,628.7C1398.9,629.4 1407.4,629.6 1416.4,630.4C1425.4,631.2 1434.2,632.1 1443.4,633.4C1452.6,634.7 1459.9,635.5 1471.4,638.1C1482.9,640.7 1497.7,644.8 1512.4,648.8C1527.1,652.8 1546.7,658.6 1559.4,662.3C1572.1,666 1583.6,669.4 1588.4,670.8ZM1162.3,280.3C1164.2,285.3 1169.1,298.5 1173.4,310.3C1177.7,322.1 1183.7,337.3 1187.9,351.3C1192.1,365.3 1196,382.8 1198.6,394.3C1201.2,405.8 1202,411.5 1203.3,420.3C1204.6,429.1 1205.5,438.3 1206.3,447.3C1207.1,456.3 1207.5,464.8 1208,474.3C1208.5,483.8 1209.2,495.3 1209.5,504.3C1209.8,513.3 1209.8,519.8 1209.9,528.3C1210,536.8 1209.9,550.8 1209.9,555.3L1237.9,555.3C1237.9,550.8 1238,536.8 1237.9,528.3C1237.8,519.8 1237.9,513.3 1237.4,504.3C1236.9,495.3 1235.7,483.8 1235,474.3C1234.3,464.8 1234.1,456.3 1233.3,447.3C1232.5,438.3 1231.6,429.5 1230.3,420.3C1229,411.1 1228.2,403.8 1225.6,392.3C1223,380.8 1218.9,366 1214.9,351.3C1210.9,336.6 1205.1,317 1201.4,304.3C1197.7,291.6 1194.3,280.1 1192.9,275.3ZM1334.5,280.3C1332.7,285.3 1327.7,298.5 1323.4,310.3C1319.1,322.1 1313.1,337.3 1308.9,351.3C1304.7,365.3 1300.8,382.8 1298.2,394.3C1295.6,405.8 1294.8,411.5 1293.5,420.3C1292.2,429.1 1291.3,438.3 1290.5,447.3C1289.7,456.3 1289.3,464.8 1288.8,474.3C1288.3,483.8 1287.6,495.3 1287.3,504.3C1287,513.3 1287,519.8 1286.9,528.3C1286.8,536.8 1286.9,550.8 1286.9,555.3L1258.9,555.3C1258.9,550.8 1258.8,536.8 1258.9,528.3C1259,519.8 1258.9,513.3 1259.4,504.3C1259.9,495.3 1261.1,483.8 1261.8,474.3C1262.5,464.8 1262.7,456.3 1263.5,447.3C1264.3,438.3 1265.2,429.5 1266.5,420.3C1267.8,411.1 1268.6,403.8 1271.2,392.3C1273.8,380.8 1277.9,366 1281.9,351.3C1285.9,336.6 1291.7,317 1295.4,304.3C1299.1,291.6 1302.5,280.1 1303.9,275.3ZM1162.3,950.3C1164.2,945.3 1169.1,932.1 1173.4,920.3C1177.7,908.5 1183.7,893.3 1187.9,879.3C1192.1,865.3 1196,847.8 1198.6,836.3C1201.2,824.8 1202,819.1 1203.3,810.3C1204.6,801.5 1205.5,792.3 1206.3,783.3C1207.1,774.3 1207.5,765.8 1208,756.3C1208.5,746.8 1209.2,735.3 1209.5,726.3C1209.8,717.3 1209.8,710.8 1209.9,702.3C1210,693.8 1209.9,679.8 1209.9,675.3L1237.9,675.3C1237.9,679.8 1238,693.8 1237.9,702.3C1237.8,710.8 1237.9,717.3 1237.4,726.3C1236.9,735.3 1235.7,746.8 1235,756.3C1234.3,765.8 1234.1,774.3 1233.3,783.3C1232.5,792.3 1231.6,801.1 1230.3,810.3C1229,819.5 1228.2,826.8 1225.6,838.3C1223,849.8 1218.9,864.6 1214.9,879.3C1210.9,894 1205.1,913.6 1201.4,926.3C1197.7,939 1194.3,950.5 1192.9,955.3ZM1334.5,950.3C1332.7,945.3 1327.7,932.1 1323.4,920.3C1319.1,908.5 1313.1,893.3 1308.9,879.3C1304.7,865.3 1300.8,847.8 1298.2,836.3C1295.6,824.8 1294.8,819.1 1293.5,810.3C1292.2,801.5 1291.3,792.3 1290.5,783.3C1289.7,774.3 1289.3,765.8 1288.8,756.3C1288.3,746.8 1287.6,735.3 1287.3,726.3C1287,717.3 1287,710.8 1286.9,702.3C1286.8,693.8 1286.9,679.8 1286.9,675.3L1258.9,675.3C1258.9,679.8 1258.8,693.8 1258.9,702.3C1259,710.8 1258.9,717.3 1259.4,726.3C1259.9,735.3 1261.1,746.8 1261.8,756.3C1262.5,765.8 1262.7,774.3 1263.5,783.3C1264.3,792.3 1265.2,801.1 1266.5,810.3C1267.8,819.5 1268.6,826.8 1271.2,838.3C1273.8,849.8 1277.9,864.6 1281.9,879.3C1285.9,894 1291.7,913.6 1295.4,926.3C1299.1,939 1302.5,950.5 1303.9,955.3Z" stroke-width="0" fill="#fff" stroke="none"/>
<path d="M913.4,529.2C918.4,531 931.6,536 943.4,540.3C955.2,544.6 970.4,550.6 984.4,554.8C998.4,559 1015.9,562.9 1027.4,565.5C1038.9,568.1 1044.6,568.9 1053.4,570.2C1062.2,571.5 1071.4,572.4 1080.4,573.2C1089.4,574 1097.9,574.4 1107.4,574.9C1116.9,575.4 1128.4,576.1 1137.4,576.4C1146.4,576.7 1152.9,576.7 1161.4,576.8C1169.9,576.9 1183.9,576.8 1188.4,576.8" stroke-width="1.3"/>
<path d="M908.4,559.8C913.2,561.2 924.7,564.6 937.4,568.3C950.1,572 969.7,577.8 984.4,581.8C999.1,585.8 1013.9,589.9 1025.4,592.5C1036.9,595.1 1044.2,595.9 1053.4,597.2C1062.6,598.5 1071.4,599.4 1080.4,600.2C1089.4,601 1097.9,601.2 1107.4,601.9C1116.9,602.6 1128.4,603.8 1137.4,604.3C1146.4,604.8 1152.9,604.7 1161.4,604.8C1169.9,604.9 1183.9,604.8 1188.4,604.8" stroke-width="1.3"/>
<path d="M913.4,532.2C918.4,534 931.6,539 943.4,543.3C955.2,547.6 970.4,553.6 984.4,557.8C998.4,562 1015.9,565.9 1027.4,568.5C1038.9,571.1 1044.6,571.9 1053.4,573.2C1062.2,574.5 1071.4,575.4 1080.4,576.2C1089.4,577 1097.9,577.4 1107.4,577.9C1116.9,578.4 1128.4,579.1 1137.4,579.4C1146.4,579.7 1152.9,579.7 1161.4,579.8C1169.9,579.9 1183.9,579.8 1188.4,579.8" stroke-width="1.19"/>
<path d="M908.4,556.8C913.2,558.2 924.7,561.6 937.4,565.3C950.1,569 969.7,574.8 984.4,578.8C999.1,582.8 1013.9,586.9 1025.4,589.5C1036.9,592.1 1044.2,592.9 1053.4,594.2C1062.6,595.5 1071.4,596.4 1080.4,597.2C1089.4,598 1097.9,598.2 1107.4,598.9C1116.9,599.6 1128.4,600.8 1137.4,601.3C1146.4,601.8 1152.9,601.7 1161.4,601.8C1169.9,601.9 1183.9,601.8 1188.4,601.8" stroke-width="1.19"/>
<path d="M913.4,701.4C918.4,699.5 931.6,694.6 943.4,690.3C955.2,686 970.4,680 984.4,675.8C998.4,671.6 1015.9,667.7 1027.4,665.1C1038.9,662.5 1044.6,661.7 1053.4,660.4C1062.2,659.1 1071.4,658.2 1080.4,657.4C1089.4,656.6 1097.9,656.2 1107.4,655.7C1116.9,655.2 1128.4,654.5 1137.4,654.2C1146.4,653.9 1152.9,653.9 1161.4,653.8C1169.9,653.7 1183.9,653.8 1188.4,653.8" stroke-width="1.3"/>
<path d="M908.4,670.8C913.2,669.4 924.7,666 937.4,662.3C950.1,658.6 969.7,652.8 984.4,648.8C999.1,644.8 1013.9,640.7 1025.4,638.1C1036.9,635.5 1044.2,634.7 1053.4,633.4C1062.6,632.1 1071.4,631.2 1080.4,630.4C1089.4,629.6 1097.9,629.4 1107.4,628.7C1116.9,628 1128.4,626.8 1137.4,626.3C1146.4,625.8 1152.9,625.9 1161.4,625.8C1169.9,625.7 1183.9,625.8 1188.4,625.8" stroke-width="1.3"/>
<path d="M913.4,698.4C918.4,696.5 931.6,691.6 943.4,687.3C955.2,683 970.4,677 984.4,672.8C998.4,668.6 1015.9,664.7 1027.4,662.1C1038.9,659.5 1044.6,658.7 1053.4,657.4C1062.2,656.1 1071.4,655.2 1080.4,654.4C1089.4,653.6 1097.9,653.2 1107.4,652.7C1116.9,652.2 1128.4,651.5 1137.4,651.2C1146.4,650.9 1152.9,650.9 1161.4,650.8C1169.9,650.7 1183.9,650.8 1188.4,650.8" stroke-width="1.19"/>
<path d="M908.4,673.8C913.2,672.4 924.7,669 937.4,665.3C950.1,661.6 969.7,655.8 984.4,651.8C999.1,647.8 1013.9,643.7 1025.4,641.1C1036.9,638.5 1044.2,637.7 1053.4,636.4C1062.6,635.1 1071.4,634.2 1080.4,633.4C1089.4,632.6 1097.9,632.4 1107.4,631.7C1116.9,631 1128.4,629.8 1137.4,629.3C1146.4,628.8 1152.9,628.9 1161.4,628.8C1169.9,628.7 1183.9,628.8 1188.4,628.8" stroke-width="1.19"/>
<path d="M1583.4,529.2C1578.4,531 1565.2,536 1553.4,540.3C1541.6,544.6 1526.4,550.6 1512.4,554.8C1498.4,559 1480.9,562.9 1469.4,565.5C1457.9,568.1 1452.2,568.9 1443.4,570.2C1434.6,571.5 1425.4,572.4 1416.4,573.2C1407.4,574 1398.9,574.4 1389.4,574.9C1379.9,575.4 1368.4,576.1 1359.4,576.4C1350.4,576.7 1343.9,576.7 1335.4,576.8C1326.9,576.9 1312.9,576.8 1308.4,576.8" stroke-width="1.3"/>
<path d="M1588.4,559.8C1583.6,561.2 1572.1,564.6 1559.4,568.3C1546.7,572 1527.1,577.8 1512.4,581.8C1497.7,585.8 1482.9,589.9 1471.4,592.5C1459.9,595.1 1452.6,595.9 1443.4,597.2C1434.2,598.5 1425.4,599.4 1416.4,600.2C1407.4,601 1398.9,601.2 1389.4,601.9C1379.9,602.6 1368.4,603.8 1359.4,604.3C1350.4,604.8 1343.9,604.7 1335.4,604.8C1326.9,604.9 1312.9,604.8 1308.4,604.8" stroke-width="1.3"/>
<path d="M1583.4,532.2C1578.4,534 1565.2,539 1553.4,543.3C1541.6,547.6 1526.4,553.6 1512.4,557.8C1498.4,562 1480.9,565.9 1469.4,568.5C1457.9,571.1 1452.2,571.9 1443.4,573.2C1434.6,574.5 1425.4,575.4 1416.4,576.2C1407.4,577 1398.9,577.4 1389.4,577.9C1379.9,578.4 1368.4,579.1 1359.4,579.4C1350.4,579.7 1343.9,579.7 1335.4,579.8C1326.9,579.9 1312.9,579.8 1308.4,579.8" stroke-width="1.19"/>
<path d="M1588.4,556.8C1583.6,558.2 1572.1,561.6 1559.4,565.3C1546.7,569 1527.1,574.8 1512.4,578.8C1497.7,582.8 1482.9,586.9 1471.4,589.5C1459.9,592.1 1452.6,592.9 1443.4,594.2C1434.2,595.5 1425.4,596.4 1416.4,597.2C1407.4,598 1398.9,598.2 1389.4,598.9C1379.9,599.6 1368.4,600.8 1359.4,601.3C1350.4,601.8 1343.9,601.7 1335.4,601.8C1326.9,601.9 1312.9,601.8 1308.4,601.8" stroke-width="1.19"/>
<path d="M1583.4,701.4C1578.4,699.5 1565.2,694.6 1553.4,690.3C1541.6,686 1526.4,680 1512.4,675.8C1498.4,671.6 1480.9,667.7 1469.4,665.1C1457.9,662.5 1452.2,661.7 1443.4,660.4C1434.6,659.1 1425.4,658.2 1416.4,657.4C1407.4,656.6 1398.9,656.2 1389.4,655.7C1379.9,655.2 1368.4,654.5 1359.4,654.2C1350.4,653.9 1343.9,653.9 1335.4,653.8C1326.9,653.7 1312.9,653.8 1308.4,653.8" stroke-width="1.3"/>
<path d="M1588.4,670.8C1583.6,669.4 1572.1,666 1559.4,662.3C1546.7,658.6 1527.1,652.8 1512.4,648.8C1497.7,644.8 1482.9,640.7 1471.4,638.1C1459.9,635.5 1452.6,634.7 1443.4,633.4C1434.2,632.1 1425.4,631.2 1416.4,630.4C1407.4,629.6 1398.9,629.4 1389.4,628.7C1379.9,628 1368.4,626.8 1359.4,626.3C1350.4,625.8 1343.9,625.9 1335.4,625.8C1326.9,625.7 1312.9,625.8 1308.4,625.8" stroke-width="1.3"/>
<path d="M1583.4,698.4C1578.4,696.5 1565.2,691.6 1553.4,687.3C1541.6,683 1526.4,677 1512.4,672.8C1498.4,668.6 1480.9,664.7 1469.4,662.1C1457.9,659.5 1452.2,658.7 1443.4,657.4C1434.6,656.1 1425.4,655.2 1416.4,654.4C1407.4,653.6 1398.9,653.2 1389.4,652.7C1379.9,652.2 1368.4,651.5 1359.4,651.2C1350.4,650.9 1343.9,650.9 1335.4,650.8C1326.9,650.7 1312.9,650.8 1308.4,650.8" stroke-width="1.19"/>
<path d="M1588.4,673.8C1583.6,672.4 1572.1,669 1559.4,665.3C1546.7,661.6 1527.1,655.8 1512.4,651.8C1497.7,647.8 1482.9,643.7 1471.4,641.1C1459.9,638.5 1452.6,637.7 1443.4,636.4C1434.2,635.1 1425.4,634.2 1416.4,633.4C1407.4,632.6 1398.9,632.4 1389.4,631.7C1379.9,631 1368.4,629.8 1359.4,629.3C1350.4,628.8 1343.9,628.9 1335.4,628.8C1326.9,628.7 1312.9,628.8 1308.4,628.8" stroke-width="1.19"/>
<path d="M1162.3,280.3C1164.2,285.3 1169.1,298.5 1173.4,310.3C1177.7,322.1 1183.7,337.3 1187.9,351.3C1192.1,365.3 1196,382.8 1198.6,394.3C1201.2,405.8 1202,411.5 1203.3,420.3C1204.6,429.1 1205.5,438.3 1206.3,447.3C1207.1,456.3 1207.5,464.8 1208,474.3C1208.5,483.8 1209.2,495.3 1209.5,504.3C1209.8,513.3 1209.8,519.8 1209.9,528.3C1210,536.8 1209.9,550.8 1209.9,555.3" stroke-width="1.3"/>
<path d="M1192.9,275.3C1194.3,280.1 1197.7,291.6 1201.4,304.3C1205.1,317 1210.9,336.6 1214.9,351.3C1218.9,366 1223,380.8 1225.6,392.3C1228.2,403.8 1229,411.1 1230.3,420.3C1231.6,429.5 1232.5,438.3 1233.3,447.3C1234.1,456.3 1234.3,464.8 1235,474.3C1235.7,483.8 1236.9,495.3 1237.4,504.3C1237.9,513.3 1237.8,519.8 1237.9,528.3C1238,536.8 1237.9,550.8 1237.9,555.3" stroke-width="1.3"/>
<path d="M1165.3,280.3C1167.2,285.3 1172.1,298.5 1176.4,310.3C1180.7,322.1 1186.7,337.3 1190.9,351.3C1195.1,365.3 1199,382.8 1201.6,394.3C1204.2,405.8 1205,411.5 1206.3,420.3C1207.6,429.1 1208.5,438.3 1209.3,447.3C1210.1,456.3 1210.5,464.8 1211,474.3C1211.5,483.8 1212.2,495.3 1212.5,504.3C1212.8,513.3 1212.8,519.8 1212.9,528.3C1213,536.8 1212.9,550.8 1212.9,555.3" stroke-width="1.19"/>
<path d="M1189.9,275.3C1191.3,280.1 1194.7,291.6 1198.4,304.3C1202.1,317 1207.9,336.6 1211.9,351.3C1215.9,366 1220,380.8 1222.6,392.3C1225.2,403.8 1226,411.1 1227.3,420.3C1228.6,429.5 1229.5,438.3 1230.3,447.3C1231.1,456.3 1231.3,464.8 1232,474.3C1232.7,483.8 1233.9,495.3 1234.4,504.3C1234.9,513.3 1234.8,519.8 1234.9,528.3C1235,536.8 1234.9,550.8 1234.9,555.3" stroke-width="1.19"/>
<path d="M1334.5,280.3C1332.7,285.3 1327.7,298.5 1323.4,310.3C1319.1,322.1 1313.1,337.3 1308.9,351.3C1304.7,365.3 1300.8,382.8 1298.2,394.3C1295.6,405.8 1294.8,411.5 1293.5,420.3C1292.2,429.1 1291.3,438.3 1290.5,447.3C1289.7,456.3 1289.3,464.8 1288.8,474.3C1288.3,483.8 1287.6,495.3 1287.3,504.3C1287,513.3 1287,519.8 1286.9,528.3C1286.8,536.8 1286.9,550.8 1286.9,555.3" stroke-width="1.3"/>
<path d="M1303.9,275.3C1302.5,280.1 1299.1,291.6 1295.4,304.3C1291.7,317 1285.9,336.6 1281.9,351.3C1277.9,366 1273.8,380.8 1271.2,392.3C1268.6,403.8 1267.8,411.1 1266.5,420.3C1265.2,429.5 1264.3,438.3 1263.5,447.3C1262.7,456.3 1262.5,464.8 1261.8,474.3C1261.1,483.8 1259.9,495.3 1259.4,504.3C1258.9,513.3 1259,519.8 1258.9,528.3C1258.8,536.8 1258.9,550.8 1258.9,555.3" stroke-width="1.3"/>
<path d="M1331.5,280.3C1329.7,285.3 1324.7,298.5 1320.4,310.3C1316.1,322.1 1310.1,337.3 1305.9,351.3C1301.7,365.3 1297.8,382.8 1295.2,394.3C1292.6,405.8 1291.8,411.5 1290.5,420.3C1289.2,429.1 1288.3,438.3 1287.5,447.3C1286.7,456.3 1286.3,464.8 1285.8,474.3C1285.3,483.8 1284.6,495.3 1284.3,504.3C1284,513.3 1284,519.8 1283.9,528.3C1283.8,536.8 1283.9,550.8 1283.9,555.3" stroke-width="1.19"/>
<path d="M1306.9,275.3C1305.5,280.1 1302.1,291.6 1298.4,304.3C1294.7,317 1288.9,336.6 1284.9,351.3C1280.9,366 1276.8,380.8 1274.2,392.3C1271.6,403.8 1270.8,411.1 1269.5,420.3C1268.2,429.5 1267.3,438.3 1266.5,447.3C1265.7,456.3 1265.5,464.8 1264.8,474.3C1264.1,483.8 1262.9,495.3 1262.4,504.3C1261.9,513.3 1262,519.8 1261.9,528.3C1261.8,536.8 1261.9,550.8 1261.9,555.3" stroke-width="1.19"/>
<path d="M1162.3,950.3C1164.2,945.3 1169.1,932.1 1173.4,920.3C1177.7,908.5 1183.7,893.3 1187.9,879.3C1192.1,865.3 1196,847.8 1198.6,836.3C1201.2,824.8 1202,819.1 1203.3,810.3C1204.6,801.5 1205.5,792.3 1206.3,783.3C1207.1,774.3 1207.5,765.8 1208,756.3C1208.5,746.8 1209.2,735.3 1209.5,726.3C1209.8,717.3 1209.8,710.8 1209.9,702.3C1210,693.8 1209.9,679.8 1209.9,675.3" stroke-width="1.3"/>
<path d="M1192.9,955.3C1194.3,950.5 1197.7,939 1201.4,926.3C1205.1,913.6 1210.9,894 1214.9,879.3C1218.9,864.6 1223,849.8 1225.6,838.3C1228.2,826.8 1229,819.5 1230.3,810.3C1231.6,801.1 1232.5,792.3 1233.3,783.3C1234.1,774.3 1234.3,765.8 1235,756.3C1235.7,746.8 1236.9,735.3 1237.4,726.3C1237.9,717.3 1237.8,710.8 1237.9,702.3C1238,693.8 1237.9,679.8 1237.9,675.3" stroke-width="1.3"/>
<path d="M1165.3,950.3C1167.2,945.3 1172.1,932.1 1176.4,920.3C1180.7,908.5 1186.7,893.3 1190.9,879.3C1195.1,865.3 1199,847.8 1201.6,836.3C1204.2,824.8 1205,819.1 1206.3,810.3C1207.6,801.5 1208.5,792.3 1209.3,783.3C1210.1,774.3 1210.5,765.8 1211,756.3C1211.5,746.8 1212.2,735.3 1212.5,726.3C1212.8,717.3 1212.8,710.8 1212.9,702.3C1213,693.8 1212.9,679.8 1212.9,675.3" stroke-width="1.19"/>
<path d="M1189.9,955.3C1191.3,950.5 1194.7,939 1198.4,926.3C1202.1,913.6 1207.9,894 1211.9,879.3C1215.9,864.6 1220,849.8 1222.6,838.3C1225.2,826.8 1226,819.5 1227.3,810.3C1228.6,801.1 1229.5,792.3 1230.3,783.3C1231.1,774.3 1231.3,765.8 1232,756.3C1232.7,746.8 1233.9,735.3 1234.4,726.3C1234.9,717.3 1234.8,710.8 1234.9,702.3C1235,693.8 1234.9,679.8 1234.9,675.3" stroke-width="1.19"/>
<path d="M1334.5,950.3C1332.7,945.3 1327.7,932.1 1323.4,920.3C1319.1,908.5 1313.1,893.3 1308.9,879.3C1304.7,865.3 1300.8,847.8 1298.2,836.3C1295.6,824.8 1294.8,819.1 1293.5,810.3C1292.2,801.5 1291.3,792.3 1290.5,783.3C1289.7,774.3 1289.3,765.8 1288.8,756.3C1288.3,746.8 1287.6,735.3 1287.3,726.3C1287,717.3 1287,710.8 1286.9,702.3C1286.8,693.8 1286.9,679.8 1286.9,675.3" stroke-width="1.3"/>
<path d="M1303.9,955.3C1302.5,950.5 1299.1,939 1295.4,926.3C1291.7,913.6 1285.9,894 1281.9,879.3C1277.9,864.6 1273.8,849.8 1271.2,838.3C1268.6,826.8 1267.8,819.5 1266.5,810.3C1265.2,801.1 1264.3,792.3 1263.5,783.3C1262.7,774.3 1262.5,765.8 1261.8,756.3C1261.1,746.8 1259.9,735.3 1259.4,726.3C1258.9,717.3 1259,710.8 1258.9,702.3C1258.8,693.8 1258.9,679.8 1258.9,675.3" stroke-width="1.3"/>
<path d="M1331.5,950.3C1329.7,945.3 1324.7,932.1 1320.4,920.3C1316.1,908.5 1310.1,893.3 1305.9,879.3C1301.7,865.3 1297.8,847.8 1295.2,836.3C1292.6,824.8 1291.8,819.1 1290.5,810.3C1289.2,801.5 1288.3,792.3 1287.5,783.3C1286.7,774.3 1286.3,765.8 1285.8,756.3C1285.3,746.8 1284.6,735.3 1284.3,726.3C1284,717.3 1284,710.8 1283.9,702.3C1283.8,693.8 1283.9,679.8 1283.9,675.3" stroke-width="1.19"/>
<path d="M1306.9,955.3C1305.5,950.5 1302.1,939 1298.4,926.3C1294.7,913.6 1288.9,894 1284.9,879.3C1280.9,864.6 1276.8,849.8 1274.2,838.3C1271.6,826.8 1270.8,819.5 1269.5,810.3C1268.2,801.1 1267.3,792.3 1266.5,783.3C1265.7,774.3 1265.5,765.8 1264.8,756.3C1264.1,746.8 1262.9,735.3 1262.4,726.3C1261.9,717.3 1262,710.8 1261.9,702.3C1261.8,693.8 1261.9,679.8 1261.9,675.3" stroke-width="1.19"/>
</g>
<circle cx="1248.4" cy="615.3" r="229.4" stroke-width="1.0"/>
<circle cx="1248.4" cy="615.3" r="210" stroke-width="1.0" clip-path="url(#spokeclip)"/>
<circle cx="1248.4" cy="615.3" r="78" stroke-width="1.3" fill="#fff"/>
<circle cx="1248.4" cy="615.3" r="75.8" stroke-width="1.0"/>
<circle cx="1248.4" cy="615.3" r="48" stroke-width="1.3"/>
<circle cx="1248.4" cy="615.3" r="44.3" stroke-width="1.3"/>
<clipPath id="hslots"><path d="M-4.8,-38.9H4.8A2.5,2.5 0 0 1 4.8,-33.9H-4.8A2.5,2.5 0 0 1 -4.8,-38.9ZM-24,-28.4H24A2.5,2.5 0 0 1 24,-23.6H-24A2.5,2.5 0 0 1 -24,-28.4ZM-31.3,-18.1H31.3A2.5,2.5 0 0 1 31.3,-13.2H-31.3A2.5,2.5 0 0 1 -31.3,-18.1ZM-34.7,-7.7H34.7A2.5,2.5 0 0 1 34.7,-2.8H-34.7A2.5,2.5 0 0 1 -34.7,-7.7ZM-34.7,2.8H34.7A2.5,2.5 0 0 1 34.7,7.7H-34.7A2.5,2.5 0 0 1 -34.7,2.8ZM-31.3,13.2H31.3A2.5,2.5 0 0 1 31.3,18.1H-31.3A2.5,2.5 0 0 1 -31.3,13.2ZM-24,23.6H24A2.5,2.5 0 0 1 24,28.4H-24A2.5,2.5 0 0 1 -24,23.6ZM-4.8,33.9H4.8A2.5,2.5 0 0 1 4.8,38.9H-4.8A2.5,2.5 0 0 1 -4.8,33.9Z" transform="translate(1248.4 615.3) rotate(-45)"/></clipPath>
<path d="M-4.8,-38.9H4.8A2.5,2.5 0 0 1 4.8,-33.9H-4.8A2.5,2.5 0 0 1 -4.8,-38.9ZM-24,-28.4H24A2.5,2.5 0 0 1 24,-23.6H-24A2.5,2.5 0 0 1 -24,-28.4ZM-31.3,-18.1H31.3A2.5,2.5 0 0 1 31.3,-13.2H-31.3A2.5,2.5 0 0 1 -31.3,-18.1ZM-34.7,-7.7H34.7A2.5,2.5 0 0 1 34.7,-2.8H-34.7A2.5,2.5 0 0 1 -34.7,-7.7ZM-34.7,2.8H34.7A2.5,2.5 0 0 1 34.7,7.7H-34.7A2.5,2.5 0 0 1 -34.7,2.8ZM-31.3,13.2H31.3A2.5,2.5 0 0 1 31.3,18.1H-31.3A2.5,2.5 0 0 1 -31.3,13.2ZM-24,23.6H24A2.5,2.5 0 0 1 24,28.4H-24A2.5,2.5 0 0 1 -24,23.6ZM-4.8,33.9H4.8A2.5,2.5 0 0 1 4.8,38.9H-4.8A2.5,2.5 0 0 1 -4.8,33.9Z" stroke-width="2.15" transform="translate(1248.4 615.3) rotate(-45)"/>
<circle cx="1248.4" cy="615.3" r="12" stroke-width="1.3" clip-path="url(#hslots)"/>
<g transform="rotate(0 1248.4 615.3)">
<circle cx="962.8" cy="615.3" r="10.4" stroke-width="2" fill="#fff"/>
<circle cx="962.8" cy="615.3" r="6.6" stroke-width="1.2"/>
<circle cx="962.8" cy="615.3" r="3.6" stroke-width="1.4"/>
<circle cx="962.8" cy="615.3" r="1.4" stroke-width="0.7"/>
<path d="M925.7,615.3L932.3,608.8L950.5,615.3L932.3,621.8Z" stroke-width="1.3" fill="#fff"/>
<path d="M925.7,615.3L932.3,613.6L950.5,615.3M925.7,615.3L932.3,617L950.5,615.3" stroke-width="0.86"/>
</g>
<g transform="rotate(90 1248.4 615.3)">
<circle cx="962.8" cy="615.3" r="10.4" stroke-width="2" fill="#fff"/>
<circle cx="962.8" cy="615.3" r="6.6" stroke-width="1.2"/>
<circle cx="962.8" cy="615.3" r="3.6" stroke-width="1.4"/>
<circle cx="962.8" cy="615.3" r="1.4" stroke-width="0.7"/>
<path d="M925.7,615.3L932.3,608.8L950.5,615.3L932.3,621.8Z" stroke-width="1.3" fill="#fff"/>
<path d="M925.7,615.3L932.3,613.6L950.5,615.3M925.7,615.3L932.3,617L950.5,615.3" stroke-width="0.86"/>
</g>
<g transform="rotate(180 1248.4 615.3)">
<circle cx="962.8" cy="615.3" r="10.4" stroke-width="2" fill="#fff"/>
<circle cx="962.8" cy="615.3" r="6.6" stroke-width="1.2"/>
<circle cx="962.8" cy="615.3" r="3.6" stroke-width="1.4"/>
<circle cx="962.8" cy="615.3" r="1.4" stroke-width="0.7"/>
<path d="M925.7,615.3L932.3,608.8L950.5,615.3L932.3,621.8Z" stroke-width="1.3" fill="#fff"/>
<path d="M925.7,615.3L932.3,613.6L950.5,615.3M925.7,615.3L932.3,617L950.5,615.3" stroke-width="0.86"/>
</g>
<g transform="rotate(270 1248.4 615.3)">
<circle cx="962.8" cy="615.3" r="10.4" stroke-width="2" fill="#fff"/>
<circle cx="962.8" cy="615.3" r="6.6" stroke-width="1.2"/>
<circle cx="962.8" cy="615.3" r="3.6" stroke-width="1.4"/>
<circle cx="962.8" cy="615.3" r="1.4" stroke-width="0.7"/>
<path d="M925.7,615.3L932.3,608.8L950.5,615.3L932.3,621.8Z" stroke-width="1.3" fill="#fff"/>
<path d="M925.7,615.3L932.3,613.6L950.5,615.3M925.7,615.3L932.3,617L950.5,615.3" stroke-width="0.86"/>
</g>
</g>
<g id="dims" fill="none" stroke="#2a2a2a" stroke-width="1.5">
<path d="M130,802.3L130,992.9L382.4,992.9M494.1,992.9L740.3,992.9L740.3,820"/>
<path d="M633,168.8L812,168.8L812,506.5M812,576L812,937L690.9,937"/>
<path d="M927,624L927,993L1171.6,993M1325,993L1571,993L1571,624"/>
</g>
<g id="labels" font-size="31" stroke="#000" stroke-width="0.35" style="opacity:0.999">
<text y="95" font-size="83.8" stroke-width="0.5" transform="scale(0.961 1)" x="771.7 828.5 907.8 960.4 1006">RWB65</text>
<text transform="translate(764.4 532.6) scale(1 1.035)">10.5 in</text>
<text transform="translate(764.4 568) scale(1 1.035)">26.8cm</text>
<text transform="translate(391.4 982.8) scale(1 1.035)">9.05 in</text>
<text transform="translate(391.4 1018.8) scale(1 1.035)">23.0cm</text>
<text transform="translate(1201.6 982.8) scale(1 1.035)">8.54 in</text>
<text transform="translate(1201.6 1018.8) scale(1 1.035)">21.7cm</text>
</g>
</svg>
</body>
</html>
